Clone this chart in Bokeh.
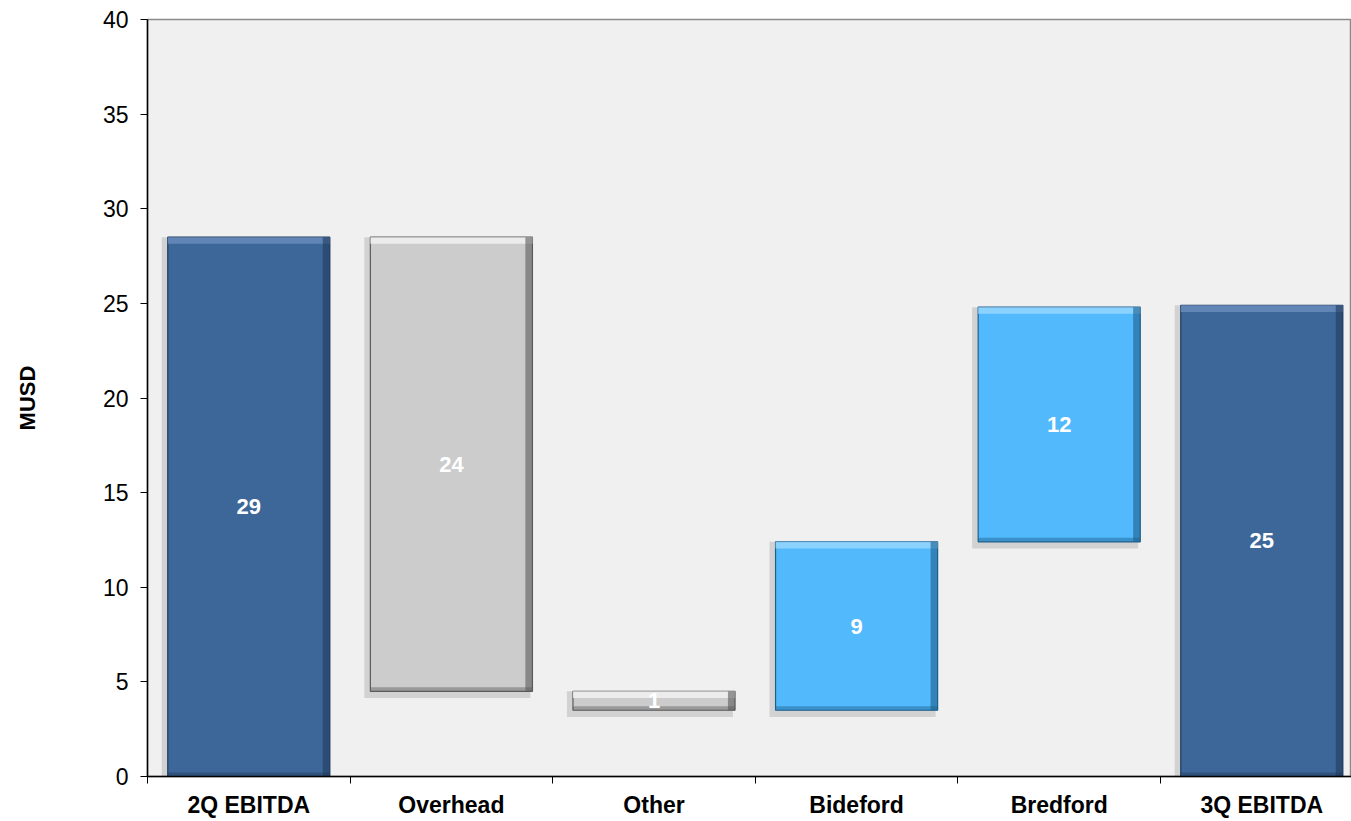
from bokeh.plotting import figure
from bokeh.models import FixedTicker, Range1d, ColumnDataSource
from bokeh.embed import file_html
from bokeh.resources import INLINE
from bokeh.core.properties import value

# ---- data ----
categories = ["2Q EBITDA", "Overhead", "Other", "Bideford", "Bredford", "3Q EBITDA"]
start_value = 28.5
changes = [-24.0, -1.0, 8.9, 12.4]
end_value = 24.9
bar_labels = ["29", "24", "1", "9", "12", "25"]
kinds = ["total", "down", "down", "up", "up", "total"]
y_ticks = [0, 5, 10, 15, 20, 25, 30, 35, 40]

colors = {"total": "#3d6799", "down": "#cccccc", "up": "#52b9fc"}
light = {"total": "#6a8fbd", "down": "#f4f4f4", "up": "#9ad8ff"}
dark = {"total": "#1f3a5c", "down": "#5a5a5a", "up": "#1c5f8c"}

# build waterfall bottoms/tops
bottoms, tops = [0.0], [start_value]
level = start_value
for c in changes:
    new = level + c
    bottoms.append(min(level, new))
    tops.append(max(level, new))
    level = new
bottoms.append(0.0)
tops.append(end_value)

xs = [i + 0.5 for i in range(len(categories))]
w = 0.80
lefts = [x - w / 2 for x in xs]
rights = [x + w / 2 for x in xs]
bevel_x = 0.035
bevel_y = 0.35

fill = [colors[k] for k in kinds]
hl = [light[k] for k in kinds]
dk = [dark[k] for k in kinds]

src = ColumnDataSource(dict(
    left=lefts, right=rights, bottom=bottoms, top=tops, x=xs,
    mid=[(b + t) / 2 for b, t in zip(bottoms, tops)],
    fill=fill, hl=hl, dk=dk, label=bar_labels,
    sh_left=[l - 0.03 for l in lefts], sh_right=[r - 0.01 for r in rights],
    sh_bottom=[b - 0.35 for b in bottoms],
    hl_bottom=[t - bevel_y for t in tops],
    dk_left=[r - bevel_x for r in rights],
    bot_top=[b + bevel_y * 0.6 for b in bottoms],
))

p = figure(width=1351, height=821, output_backend="svg", toolbar_location=None,
           x_range=Range1d(0, 1204 / 202.6), y_range=Range1d(0, 40),
           min_border_left=147, min_border_right=0, min_border_top=19,
           min_border_bottom=45)
p.background_fill_color = "#f0f0f0"
p.border_fill_color = "white"
p.outline_line_color = "#8a8a8a"
p.outline_line_width = 1.5
p.grid.visible = False

# shadows
p.quad(left="sh_left", right="sh_right", bottom="sh_bottom", top="top", source=src,
       fill_color="black", fill_alpha=0.12, line_color=None)
# main body
p.quad(left="left", right="right", bottom="bottom", top="top", source=src,
       fill_color="fill", line_color="dk", line_width=1.2)
# top highlight bevel
p.quad(left="left", right="right", bottom="hl_bottom", top="top", source=src,
       fill_color="hl", fill_alpha=0.8, line_color=None)
# right dark bevel
p.quad(left="dk_left", right="right", bottom="bottom", top="top", source=src,
       fill_color="dk", fill_alpha=0.6, line_color=None)
# bottom dark bevel
p.quad(left="left", right="right", bottom="bottom", top="bot_top", source=src,
       fill_color="dk", fill_alpha=0.45, line_color=None)

p.text(x="x", y="mid", text="label", source=src, text_color="white",
       text_font=value("Liberation Sans"), text_font_style="bold",
       text_font_size="22px", text_align="center", text_baseline="middle")

# axes
xa = p.xaxis[0]
xa.ticker = FixedTicker(ticks=xs, minor_ticks=list(range(len(categories) + 1)))
xa.major_label_overrides = {x: c for x, c in zip(xs, categories)}
xa.major_tick_out = 0
xa.major_tick_in = 0
xa.minor_tick_out = 7
xa.minor_tick_in = 0
xa.minor_tick_line_color = "black"
xa.axis_line_color = "black"
xa.axis_line_width = 1.5
xa.major_label_text_font = "Liberation Sans"
xa.major_label_text_font_style = "bold"
xa.major_label_text_font_size = "23px"
xa.major_label_text_color = "black"
xa.major_label_standoff = 8

ya = p.yaxis[0]
ya.ticker = FixedTicker(ticks=y_ticks)
ya.minor_tick_line_color = None
ya.major_tick_out = 7
ya.major_tick_in = 0
ya.major_tick_line_color = "black"
ya.axis_line_color = "black"
ya.axis_line_width = 1.5
ya.major_label_text_font = "Liberation Sans"
ya.major_label_text_font_size = "23px"
ya.major_label_text_color = "black"
ya.major_label_standoff = 12
ya.axis_label = "MUSD"
ya.axis_label_text_font = "Liberation Sans"
ya.axis_label_text_font_style = "bold"
ya.axis_label_text_font_size = "22px"
ya.axis_label_text_color = "black"
ya.axis_label_standoff = 60

open("out.html", "w").write(file_html(p, INLINE))
